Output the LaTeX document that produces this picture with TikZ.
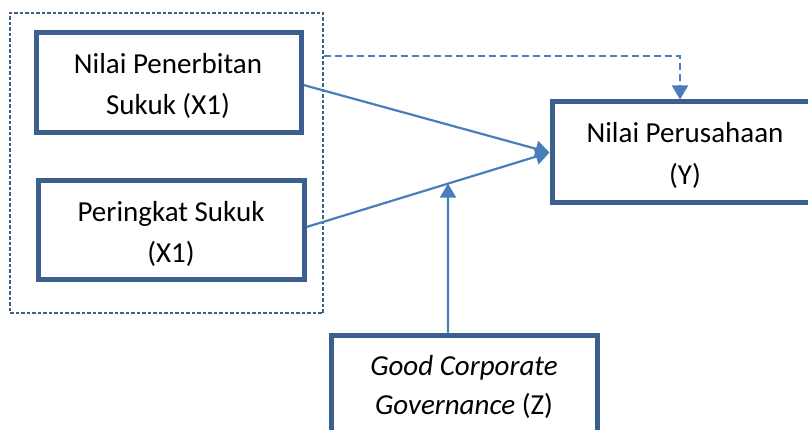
\documentclass[tikz,border=0pt]{standalone}
\usepackage{fontspec}
\setmainfont{Carlito}
\usetikzlibrary{arrows.meta,calc}
\definecolor{bordc}{HTML}{3B5F8E}
\definecolor{arrc}{HTML}{4A7EBB}
\tikzset{
  box/.style={draw=bordc, line width=5pt, rectangle, inner sep=0pt},
  grpbox/.style={draw=bordc, line width=1.3pt, dash pattern=on 3.5pt off 2pt, inner sep=0pt},
  conn/.style={draw=arrc, line width=2.2pt, -{Triangle[width=16pt,length=14pt]}},
  dconn/.style={draw=arrc, line width=2.2pt, dash pattern=on 7pt off 4pt, -{Triangle[width=16pt,length=14pt]}},
  lbl/.style={anchor=base, inner sep=0pt, font=\fontsize{29}{41}\selectfont},
}
\begin{document}
\begin{tikzpicture}[x=1pt,y=-1pt]
\useasboundingbox (0,0) rectangle (808,430);
% group box
\node[grpbox, minimum width=313pt, minimum height=300pt] (grp) at (166.5,163) {};
% boxes
\node[box, minimum width=265pt, minimum height=100pt] (b1) at (168.5,83) {};
\node[box, minimum width=266pt, minimum height=98pt] (b2) at (171,230) {};
\node[box, minimum width=262pt, minimum height=101pt] (yb) at (683,152.5) {};
\node[box, minimum width=266pt, minimum height=102pt] (zb) at (464,386) {};
% labels
\node[lbl] (t1a) at (168,74) {Nilai Penerbitan};
\node[lbl] (t1b) at (168,115) {Sukuk (X1)};
\node[lbl] (t2a) at (171,222) {Peringkat Sukuk};
\node[lbl] (t2b) at (171,262) {(X1)};
\node[lbl] (tya) at (685,143) {Nilai Perusahaan};
\node[lbl] (tyb) at (685,185) {(Y)};
\node[lbl] (tza) at (464,375) {\itshape Good Corporate};
\node[lbl] (tzb) at (464,414) {\itshape Governance\/\upshape{} (Z)};
% connectors
\coordinate (tip) at (yb.west);
\coordinate (s1) at ([yshift=-2pt]b1.east);
\coordinate (s2) at ([yshift=3pt]b2.east);
\draw[conn] (s1) -- (tip);
\draw[conn] (s2) -- (tip);
\coordinate (zs) at ([xshift=-16pt]zb.north);
\coordinate (zs2) at ([xshift=-16pt,yshift=200pt]zb.north);
\coordinate (m) at (intersection of s2--tip and zs--zs2);
\draw[conn] (zs) -- (m);
\draw[dconn] ([yshift=-44pt]grp.north east) -| ([xshift=-3pt]yb.north);
\end{tikzpicture}
\end{document}
